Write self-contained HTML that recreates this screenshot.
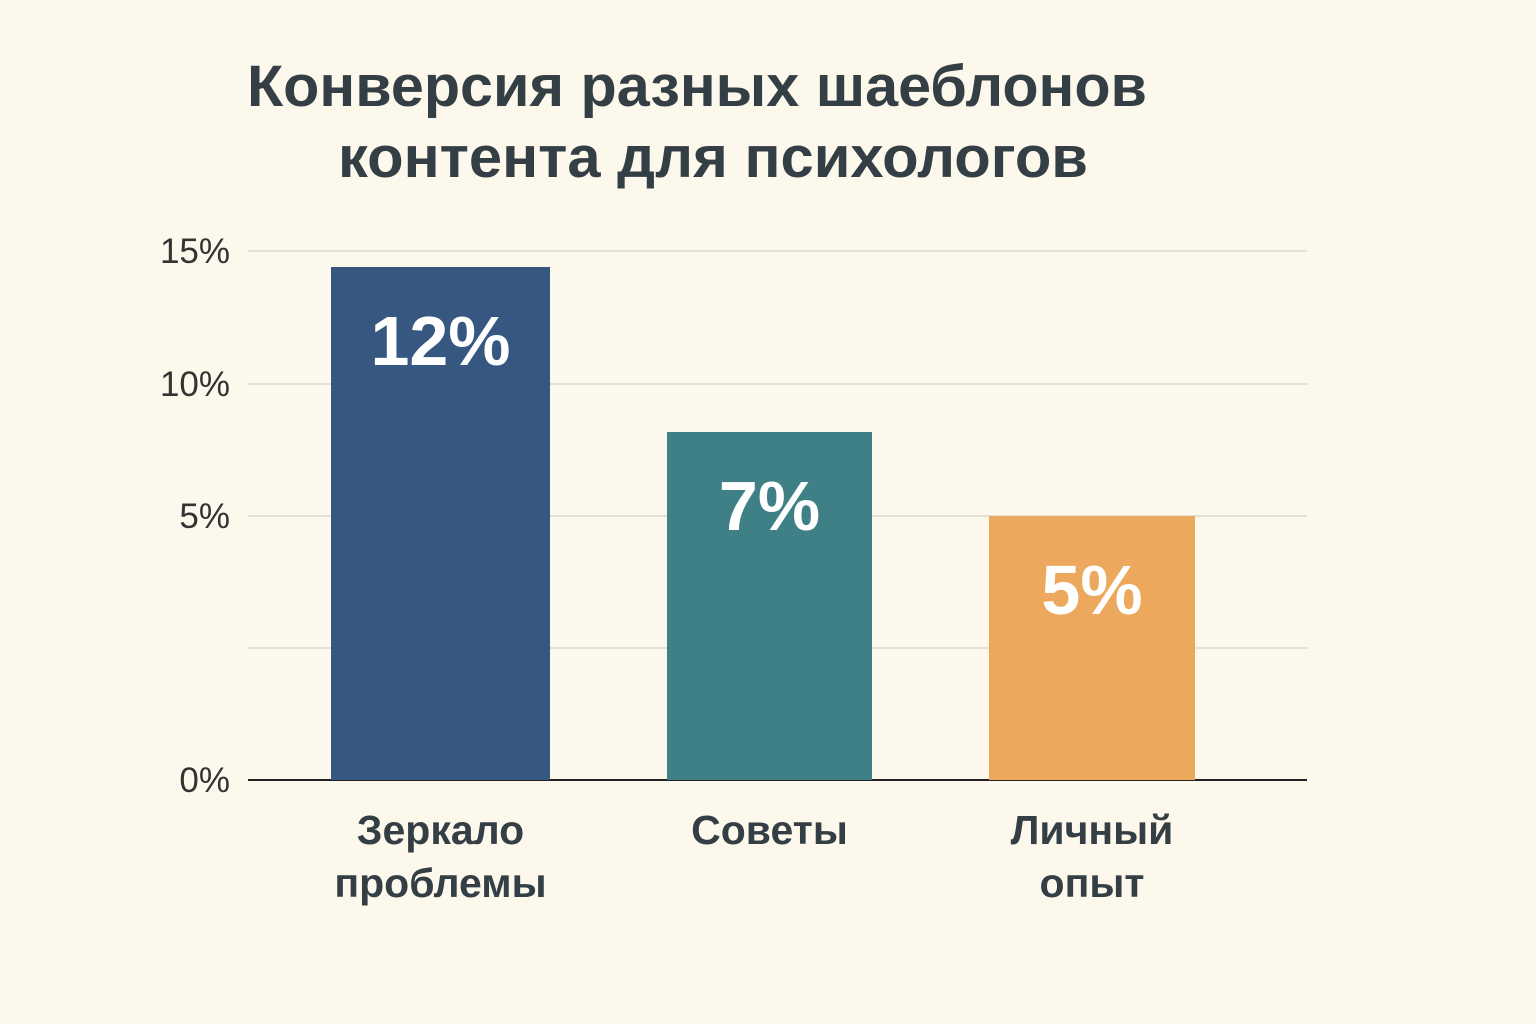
<!DOCTYPE html>
<html><head><meta charset="utf-8"><style>
html,body{margin:0;padding:0;background:#fdf8ec;}
svg{display:block;font-family:"Liberation Sans","DejaVu Sans",sans-serif;}
</style></head><body>
<svg id="chart" width="1536" height="1024" viewBox="0 0 1536 1024" xmlns="http://www.w3.org/2000/svg">
<rect width="1536" height="1024" fill="#fdf8ec"/>
<text x="697" y="106" text-anchor="middle" font-size="58" font-weight="bold" fill="#343e45" textLength="900" lengthAdjust="spacingAndGlyphs">Конверсия разных шаеблонов</text>
<text x="713" y="177" text-anchor="middle" font-size="58" font-weight="bold" fill="#343e45" textLength="750" lengthAdjust="spacingAndGlyphs">контента для психологов</text>
<g id="grid"></g><g id="bars"></g><g id="labels"></g>
</svg>
<script>
const categories = [["Зеркало","проблемы"],["Советы"],["Личный","опыт"]];
const values = [12, 7, 5];
const valueLabels = ["12%","7%","5%"];
const colors = ["#36577f","#3e8085","#eca85d"];
const tickValues = [0, 2.5, 5, 10, 15];
const tickLabels = ["0%", "", "5%", "10%", "15%"];
// piecewise axis mapping as drawn in the reference
const yDomain = [0, 2.5, 5, 7, 10, 12, 15];
const yRange  = [780, 648, 516, 432, 384, 267, 251];
function y(v){
  for(let i=1;i<yDomain.length;i++){
    if(v<=yDomain[i]||i===yDomain.length-1){
      const t=(v-yDomain[i-1])/(yDomain[i]-yDomain[i-1]);
      return yRange[i-1]+t*(yRange[i]-yRange[i-1]);
    }
  }
}
const barX=[331,667,989], barW=[219,205,206];
function x(i){return barX[i];}
const NS="http://www.w3.org/2000/svg";
function mk(tag,attrs,parent){const e=document.createElementNS(NS,tag);for(const k in attrs)e.setAttribute(k,attrs[k]);parent.appendChild(e);return e;}
const grid=document.getElementById('grid'),bars=document.getElementById('bars'),labels=document.getElementById('labels');
tickValues.forEach((v,i)=>{
  const yy=y(v);
  const l=mk('line',{x1:248,x2:1307,y1:yy,y2:yy,stroke:v===0?'#222':'#dcd8cc','stroke-width':v===0?2:1.5},grid);
  
  
  if(tickLabels[i]){
    const t=mk('text',{x:230,y:yy+12,'text-anchor':'end','font-size':35,fill:'#333'},grid);
    t.textContent=tickLabels[i];
    
    
  }
});
values.forEach((v,i)=>{
  const top=y(v), bx=x(i), w=barW[i];
  const r=mk('rect',{x:bx,y:top,width:w,height:y(0)-top,fill:colors[i]},bars);
  
  
  const t=mk('text',{x:bx+w/2,y:top+98,'text-anchor':'middle','font-size':70,'font-weight':'bold',fill:'#fff'},labels);
  t.textContent=valueLabels[i];
  
  
  categories[i].forEach((line,j)=>{
    const c=mk('text',{x:bx+w/2,y:844+j*53,'text-anchor':'middle','font-size':41,'font-weight':'bold',fill:'#343e45'},labels);
    c.textContent=line;
    
    
  });
});
</script>
</body></html>
